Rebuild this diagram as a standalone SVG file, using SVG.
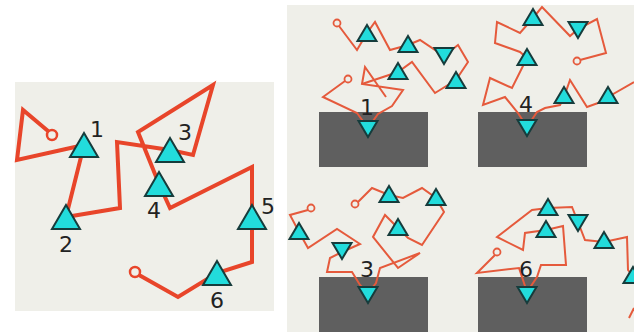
<svg xmlns="http://www.w3.org/2000/svg" xmlns:xlink="http://www.w3.org/1999/xlink" width="634" height="332" viewBox="0 0 634 332">
<style>
.bg{fill:#efefe9}
.blk{fill:#5f5f5f}
.chainL{fill:none;stroke:#e8452a;stroke-width:4;stroke-linejoin:miter}
.chainR{fill:none;stroke:#e55a3c;stroke-width:2;stroke-linejoin:miter}
.endL{fill:none;stroke:#e8452a;stroke-width:2.5}
.endR{fill:none;stroke:#e55a3c;stroke-width:1.8}
.tri{fill:#22dcdc;stroke:#163c3c;stroke-width:2;stroke-linejoin:miter}
.lbl{font-family:"DejaVu Sans","Liberation Sans",sans-serif;font-size:22px;fill:#222;text-anchor:middle}
</style>
<defs>
<path id="upL" d="M0,-12 L14,12 L-14,12 Z"/>
<path id="up" d="M0,-8 L9.5,8 L-9.5,8 Z"/>
<path id="dn" d="M0,8 L9.5,-8 L-9.5,-8 Z"/>
</defs>
<rect width="634" height="332" fill="#ffffff"/>
<rect class="bg" x="15" y="82" width="259" height="229"/>
<rect class="bg" x="287" y="5" width="347" height="327"/>

<g id="left-panel">
<polyline class="chainL" points="48,131 23,110 17,160 84,145 66,217 120,208 117,142 170,150 193,155 213,85 138,132 159,184 170,208 252,167 252,217 252,262 217,273 178,297 139,275"/>
<circle class="endL" cx="52" cy="135" r="5"/>
<circle class="endL" cx="135" cy="272" r="5"/>
<use href="#upL" class="tri" x="84" y="145"/>
<use href="#upL" class="tri" x="66" y="217"/>
<use href="#upL" class="tri" x="170" y="150"/>
<use href="#upL" class="tri" x="159" y="184"/>
<use href="#upL" class="tri" x="252" y="217"/>
<use href="#upL" class="tri" x="217" y="273"/>
<text class="lbl" x="97" y="137">1</text>
<text class="lbl" x="66" y="252">2</text>
<text class="lbl" x="185" y="140">3</text>
<text class="lbl" x="154" y="218">4</text>
<text class="lbl" x="268" y="214">5</text>
<text class="lbl" x="217" y="308">6</text>
</g>

<g id="blocks">
<rect class="blk" x="319" y="112" width="109" height="55"/>
<rect class="blk" x="478" y="112" width="109" height="55"/>
<rect class="blk" x="319" y="277" width="109" height="55"/>
<rect class="blk" x="478" y="277" width="109" height="55"/>
</g>

<g id="chains">
<polyline class="chainR" points="339,26 357,50 367,33 375,22 390,50 408,45 420,40 444,56 458,45 468,62 456,80"/>
<polyline class="chainR" points="345,81 323,97 357,113 368,128 378,114 392,106 403,90 362,84 365,67 386,97"/>
<polyline class="chainR" points="362,84 398,72 412,62 435,93 456,80"/>
<polyline class="chainR" points="580,60 606,53 597,19 578,29 570,36 542,7 533,18 520,33 497,22 495,43 520,52 527,58 512,88 490,78 483,105 505,97 518,113 527,127 537,112 545,108 560,105 564,97 570,80 587,107 598,103 608,97 634,82"/>
<polyline class="chainR" points="308,210 290,215 299,232 308,248 337,229 360,244 342,252 330,258 327,272 352,272 360,285 368,293"/>
<polyline class="chainR" points="358,202 372,188 389,195 403,198 422,188 436,198 444,212 422,245 408,238 398,228 385,215 373,237 398,268 420,253 380,268 376,283 368,293"/>
<polyline class="chainR" points="495,255 477,273 519,268 527,292 537,277 541,265 566,265 563,226 546,230 525,233 523,250 497,237 532,210 548,208 572,207 578,222 585,240 604,242 627,237 628,270 632,275"/>
<polyline class="chainR" points="629,318 634,308"/>
<circle class="endR" cx="337" cy="23" r="3.5"/>
<circle class="endR" cx="348" cy="79" r="3.5"/>
<circle class="endR" cx="577" cy="61" r="3.5"/>
<circle class="endR" cx="311" cy="208" r="3.5"/>
<circle class="endR" cx="355" cy="204" r="3.5"/>
<circle class="endR" cx="497" cy="252" r="3.5"/>
</g>

<g id="q1">
<use href="#up" class="tri" x="367" y="33"/>
<use href="#up" class="tri" x="408" y="44"/>
<use href="#dn" class="tri" x="444" y="56"/>
<use href="#up" class="tri" x="398" y="71"/>
<use href="#up" class="tri" x="456" y="80"/>
<use href="#dn" class="tri" x="368" y="129"/>
<text class="lbl" x="367" y="115">1</text>
</g>
<g id="q4">
<use href="#up" class="tri" x="533" y="17"/>
<use href="#dn" class="tri" x="578" y="30"/>
<use href="#up" class="tri" x="527" y="57"/>
<use href="#up" class="tri" x="564" y="95"/>
<use href="#up" class="tri" x="608" y="95"/>
<use href="#dn" class="tri" x="527" y="128"/>
<text class="lbl" x="526" y="112">4</text>
</g>
<g id="q3">
<use href="#up" class="tri" x="389" y="194"/>
<use href="#up" class="tri" x="436" y="197"/>
<use href="#up" class="tri" x="299" y="231"/>
<use href="#up" class="tri" x="398" y="227"/>
<use href="#dn" class="tri" x="342" y="251"/>
<use href="#dn" class="tri" x="368" y="295"/>
<text class="lbl" x="367" y="277">3</text>
</g>
<g id="q6">
<use href="#up" class="tri" x="548" y="207"/>
<use href="#up" class="tri" x="546" y="229"/>
<use href="#dn" class="tri" x="578" y="223"/>
<use href="#up" class="tri" x="604" y="240"/>
<use href="#up" class="tri" x="633" y="275"/>
<use href="#dn" class="tri" x="527" y="295"/>
<text class="lbl" x="526" y="277">6</text>
</g>
</svg>
